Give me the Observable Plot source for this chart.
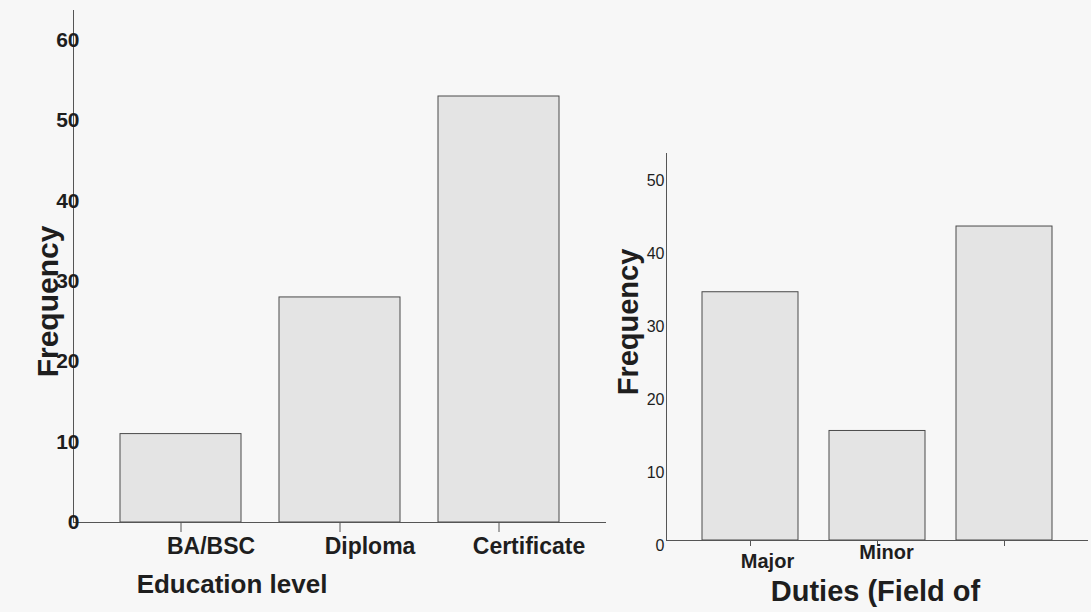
<!DOCTYPE html>
<html>
<head>
<meta charset="utf-8">
<script src="https://cdn.jsdelivr.net/npm/d3@7"></script>
<script src="https://cdn.jsdelivr.net/npm/@observablehq/plot@0.6"></script>
<style>
  html, body { margin: 0; padding: 0; background: #f7f7f7; }
  #wrap { position: relative; width: 1091px; height: 612px; overflow: hidden; background: #f7f7f7; font-family: "Liberation Sans", Arial, sans-serif; }
  #left, #right { position: absolute; top: 0; }
  #left { left: 0; }
  #right { left: 600px; }
</style>
</head>
<body>
<div id="wrap"><div id="left"></div><div id="right"></div></div>
<script>
// Chart 1: Education level
const eduLevels = ["BA/BSC", "Diploma", "Certificate"];
const eduFreq = [11, 28, 53];
const eduTicks = [0, 10, 20, 30, 40, 50, 60];

// Chart 2: Duties (Field of ...) – third category label not visible in the source
const dutyCats = ["Major", "Minor", ""];
const dutyFreq = [34, 15, 43];
const dutyTicks = [0, 10, 20, 30, 40, 50];

const eduData = eduLevels.map((c, i) => ({cat: c, n: eduFreq[i]}));
const dutyData = dutyCats.map((c, i) => ({cat: c, n: dutyFreq[i]}));

const font = "'Liberation Sans', Arial, sans-serif";
const ink = "#1e1e1e";
const axisInk = "#555";
const barFill = "#e4e4e4";
const barStroke = "#4a4a4a";

const left = Plot.plot({
  width: 615, height: 612,
  marginLeft: 73, marginRight: 9, marginTop: 10, marginBottom: 90,
  style: {background: "transparent", fontFamily: font, overflow: "visible"},
  x: {domain: eduLevels, paddingInner: 0.2375, paddingOuter: 0.2875},
  y: {domain: [0, 63.7]},
  marks: [
    Plot.barY(eduData, {x: "cat", y: "n", fill: barFill, stroke: barStroke, strokeWidth: 1}),
    Plot.frame({anchor: "left", stroke: axisInk}),
    Plot.ruleY([0], {stroke: axisInk}),
    Plot.axisX({tickSize: 10, tickFormat: () => "", label: null, stroke: axisInk}),
    Plot.axisX({tickSize: 0, tickPadding: 15, dx: 30, fontSize: 23, fontWeight: "bold", fill: ink, label: null}),
    Plot.axisY(eduTicks, {tickSize: 0, tickPadding: -6, fontSize: 21, fontWeight: "bold", fill: ink, label: null}),
    Plot.text(["Frequency"], {frameAnchor: "left", rotate: -90, dx: -25, dy: 35, fontSize: 30, fontWeight: "bold", fill: ink, textAnchor: "middle"}),
    Plot.text(["Education level"], {frameAnchor: "bottom", dx: -108, dy: 70, fontSize: 26, fontWeight: "bold", fill: ink, textAnchor: "middle"})
  ]
});
document.getElementById("left").appendChild(left);

const right = Plot.plot({
  width: 491, height: 612,
  marginLeft: 66, marginRight: 3, marginTop: 153, marginBottom: 72,
  style: {background: "transparent", fontFamily: font, overflow: "visible"},
  x: {domain: dutyCats, paddingInner: 0.244, paddingOuter: 0.283},
  y: {domain: [0, 53]},
  marks: [
    Plot.barY(dutyData, {x: "cat", y: "n", fill: barFill, stroke: barStroke, strokeWidth: 1}),
    Plot.frame({anchor: "left", stroke: axisInk}),
    Plot.ruleY([0], {stroke: axisInk}),
    Plot.axisX({tickSize: 6, tickFormat: () => "", label: null, stroke: axisInk}),
    Plot.text(dutyData, {filter: d => d.cat === "Major", x: "cat", text: "cat", frameAnchor: "bottom", dx: 17, dy: 27, fontSize: 20, fontWeight: "bold", fill: ink}),
    Plot.text(dutyData, {filter: d => d.cat === "Minor", x: "cat", text: "cat", frameAnchor: "bottom", dx: 9, dy: 18, fontSize: 20, fontWeight: "bold", fill: ink}),
    Plot.axisY(dutyTicks, {tickSize: 0, tickPadding: 2, dy: 5, fontSize: 16, fill: ink, label: null}),
    Plot.text(["Frequency"], {frameAnchor: "left", rotate: -90, dx: -38, dy: -25, fontSize: 29, fontWeight: "bold", fill: ink, textAnchor: "middle"}),
    Plot.text(["Duties (Field of"], {frameAnchor: "bottom", dx: -2, dy: 60, fontSize: 29, fontWeight: "bold", fill: ink, textAnchor: "middle"})
  ]
});
document.getElementById("right").appendChild(right);
</script>
</body>
</html>
